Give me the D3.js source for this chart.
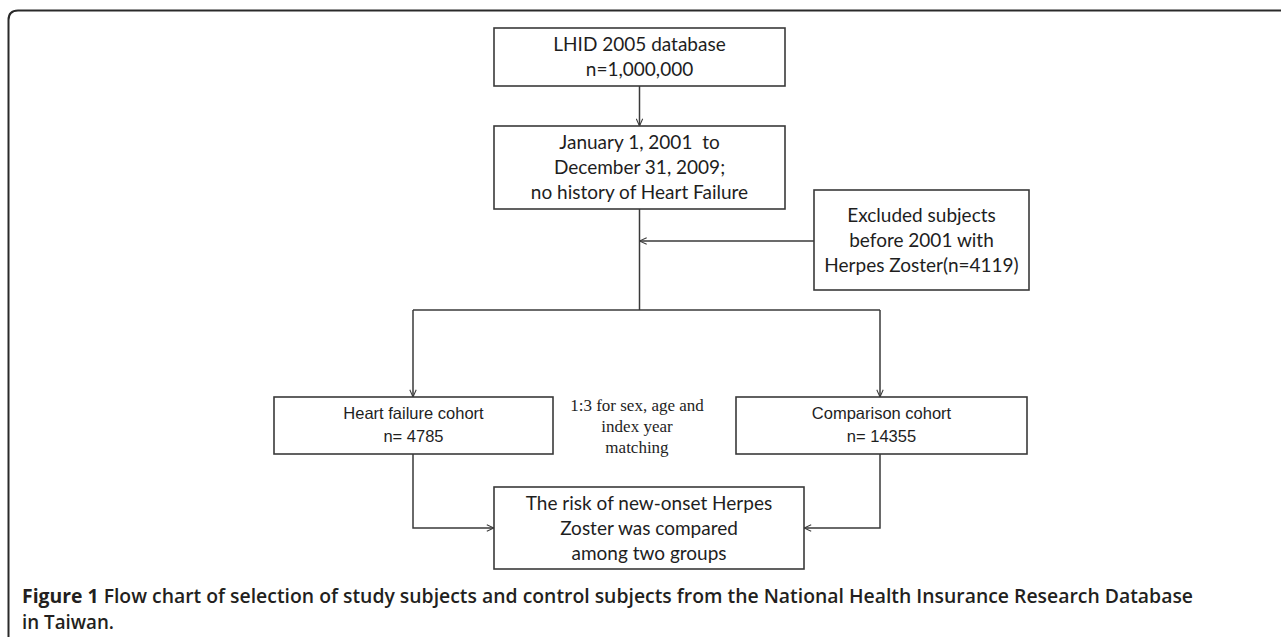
<!DOCTYPE html>
<html>
<head>
<meta charset="utf-8">
<script src="https://cdn.jsdelivr.net/npm/d3@7"></script>
<style>
  body { margin: 0; background: #fff; }
  svg { display: block; }
</style>
</head>
<body>
<svg width="1281" height="637"></svg>
<script>
// flow chart of cohort selection

// box texts
const dbLines = ['LHID 2005 database', 'n=1,000,000'];
const periodLines = ['January 1, 2001  to', 'December 31, 2009;', 'no history of Heart Failure'];
const excludedLines = ['Excluded subjects', 'before 2001 with', 'Herpes Zoster(n=4119)'];
const hfLines = ['Heart failure cohort', 'n= 4785'];
const compLines = ['Comparison cohort', 'n= 14355'];
const resultLines = ['The risk of new-onset Herpes', 'Zoster was compared', 'among two groups'];
const matchLines = ['1:3 for sex, age and', 'index year', 'matching'];
const captionBold = 'Figure 1';
const captionLines = [' Flow chart of selection of study subjects and control subjects from the National Health Insurance Research Database', 'in Taiwan.'];

var svg = d3.select('svg');

// layout of the boxes (pixels)
var layout = {
	db: { x0: 494, x1: 785, y0: 28, y1: 86, lines: dbLines, font: 'calibri' },
	period: { x0: 494, x1: 785, y0: 126, y1: 209, lines: periodLines, font: 'calibri' },
	excluded: { x0: 814, x1: 1029, y0: 190, y1: 290, lines: excludedLines, font: 'calibri' },
	hf: { x0: 274, x1: 553, y0: 397, y1: 454, lines: hfLines, font: 'arial' },
	comp: { x0: 736, x1: 1027, y0: 397, y1: 454, lines: compLines, font: 'arial' },
	result: { x0: 494, x1: 804, y0: 487, y1: 569, lines: resultLines, font: 'calibri' }
};

var fonts = {
	calibri: { family: 'Lato', size: 19, step: 25, fill: '#1e1e1e' },
	arial: { family: 'Liberation Sans', size: 16.5, step: 22.5, fill: '#1e1e1e' },
	times: { family: 'Liberation Serif', size: 17, step: 21, fill: '#1e1e1e' }
};

var stroke = '#3a3a3a';

// outer frame
svg.append('path')
	.attr('d', 'M8.5,1000 L8.5,20 Q8.5,10.5 18,10.5 L1400,10.5')
	.attr('fill', 'none')
	.attr('stroke', '#2a2a2a')
	.attr('stroke-width', 2);

// arrow head
svg.append('defs').append('marker')
	.attr('id', 'arrow')
	.attr('viewBox', '0 0 10 10')
	.attr('refX', 10)
	.attr('refY', 5)
	.attr('markerWidth', 8)
	.attr('markerHeight', 8)
	.attr('markerUnits', 'userSpaceOnUse')
	.attr('orient', 'auto')
	.append('path')
	.attr('d', 'M1,1 L10,5 L1,9')
	.attr('fill', 'none')
	.attr('stroke', stroke)
	.attr('stroke-width', 1.3);

var boxes = Object.keys(layout).map((k) => layout[k]);
var cx = (b) => (b.x0 + b.x1) / 2;
var cy = (b) => (b.y0 + b.y1) / 2;

// connectors
var L = layout;
var trunkX = cx(L.db);
var splitY = 310;
var hfX = 413, compX = 880, joinY = 528;
var links = [
	{ pts: [ [ trunkX, L.db.y1 ], [ trunkX, L.period.y0 ] ], arrow: true },
	{ pts: [ [ trunkX, L.period.y1 ], [ trunkX, splitY ] ], arrow: false },
	{ pts: [ [ L.excluded.x0, cy(L.excluded) + 1 ], [ trunkX, cy(L.excluded) + 1 ] ], arrow: true },
	{ pts: [ [ hfX, splitY ], [ compX, splitY ] ], arrow: false },
	{ pts: [ [ hfX, splitY ], [ hfX, L.hf.y0 ] ], arrow: true },
	{ pts: [ [ compX, splitY ], [ compX, L.comp.y0 ] ], arrow: true },
	{ pts: [ [ hfX, L.hf.y1 ], [ hfX, joinY ], [ L.result.x0, joinY ] ], arrow: true },
	{ pts: [ [ compX, L.comp.y1 ], [ compX, joinY ], [ L.result.x1, joinY ] ], arrow: true }
];

svg.append('g')
	.selectAll('path')
	.data(links)
	.enter()
	.append('path')
	.attr('d', (d) => d3.line()(d.pts))
	.attr('fill', 'none')
	.attr('stroke', stroke)
	.attr('stroke-width', 1.5)
	.attr('marker-end', (d) => (d.arrow ? 'url(#arrow)' : null));

// boxes
var g = svg.append('g')
	.selectAll('g')
	.data(boxes)
	.enter()
	.append('g');

g.append('rect')
	.attr('x', (d) => d.x0)
	.attr('y', (d) => d.y0)
	.attr('width', (d) => d.x1 - d.x0)
	.attr('height', (d) => d.y1 - d.y0)
	.attr('fill', '#fff')
	.attr('stroke', stroke)
	.attr('stroke-width', 1.6);

function writeLines(sel, lines, x, yMid, f) {
	sel.selectAll('text.l')
		.data(lines)
		.enter()
		.append('text')
		.attr('class', 'l')
		.attr('x', x)
		.attr('y', (d, i) => yMid + (i - (lines.length - 1) / 2) * f.step)
		.attr('text-anchor', 'middle')
		.attr('dominant-baseline', 'central')
		.style('font-family', f.family)
		.style('font-size', f.size + 'px')
		.style('fill', f.fill)
		.style('white-space', 'pre')
		.text((d) => d);
}

g.each(function(d) {
	writeLines(d3.select(this), d.lines, cx(d), cy(d) - 1, fonts[d.font]);
});

// matching note
writeLines(svg.append('g'), matchLines, 637, 426, fonts.times);

// caption
var cap = svg.append('text')
	.attr('x', 22)
	.attr('y', 603)
	.style('font-family', 'Open Sans')
	.style('font-size', '19px')
	.style('fill', '#231f20')
	.attr('textLength', 1171)
	.attr('lengthAdjust', 'spacingAndGlyphs');
cap.append('tspan').style('font-weight', 700).text(captionBold);
cap.append('tspan').style('font-weight', 600).style('white-space', 'pre').text(captionLines[0]);

svg.append('text')
	.attr('x', 22)
	.attr('y', 629)
	.style('font-family', 'Open Sans')
	.style('font-size', '19px')
	.style('font-weight', 600)
	.style('fill', '#231f20')
	.attr('textLength', 92)
	.attr('lengthAdjust', 'spacingAndGlyphs')
	.text(captionLines[1]);
</script>
</body>
</html>
